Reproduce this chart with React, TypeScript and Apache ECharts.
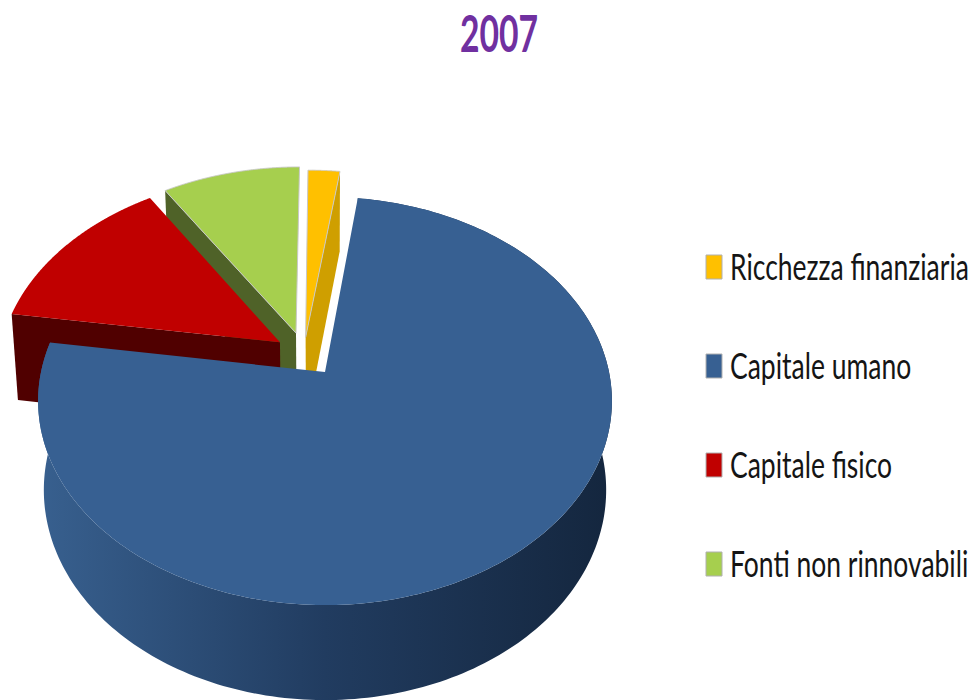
import React, { useEffect, useRef } from "react";
import * as echarts from "echarts";

const categories = ["Ricchezza finanziaria", "Capitale umano", "Capitale fisico", "Fonti non rinnovabili"];
const shares = [2.1, 75.3, 13.5, 9.1];
const topColors = ["#ffc000", "#376092", "#c00000", "#a6cf4e"];
const cutColors = ["#cf9f00", "#254061", "#500000", "#4f6228"];
const drawOrder = [3, 2, 0, 1];
// Displacement of each exploded slice, in units of the disc radius.
const explodeU = [-0.07, 0, -0.162, -0.105];
const explodeV = [0.178, 0, 0.152, 0.2];

const CX = 325, CY = 372, A = 200, B = 284, K = 0.142;
const FONT = "Lato, 'Open Sans', sans-serif";
const legendTops = [255, 354, 453, 552];
const LEGEND_SCALE = 0.716;

const project = (u: number, v: number, depth: boolean): number[] => {
  const w = 1 + K * v;
  const x = CX + (B * u) / w;
  const y = CY - (A * v) / w;
  if (!depth) return [x, y];
  return [CX + (x - CX) * 0.98, y + 88 - 7 * v];
};

const total = shares.reduce((a, b) => a + b, 0);
const startAngles = shares.map((_, i) => (shares.slice(0, i).reduce((a, b) => a + b, 0) * 360) / total);

const makeRenderItem = (index: number) => (_params: any, api: any) => {
  const angle = (api.value(0) * 360) / total;
  const start = startAngles[index];
  const du = explodeU[index], dv = explodeV[index];
  const rim = (deg: number, depth: boolean) => {
    const t = (deg * Math.PI) / 180;
    return project(du + Math.sin(t), dv + Math.cos(t), depth);
  };
  const top: number[][] = [], bottom: number[][] = [];
  for (let s = 0; s <= 240; s++) {
    const d = start + (angle * s) / 240;
    top.push(rim(d, false));
    bottom.push(rim(d, true));
  }
  const apexTop = project(du, dv, false);
  const apexBottom = project(du, dv, true);
  const last = top.length - 1;
  const children: any[] = [];
  if (index === 1) {
    children.push({
      type: "polygon",
      shape: { points: top.concat(bottom.slice().reverse()) },
      style: {
        fill: new echarts.graphic.LinearGradient(0, 0, 1, 0, [
          { offset: 0, color: "#38608f" },
          { offset: 0.5, color: "#213c60" },
          { offset: 1, color: "#14263e" },
        ]),
      },
    });
  }
  if (index === 0) {
    children.push({
      type: "polygon",
      shape: { points: [apexTop, top[last], bottom[last], apexBottom] },
      style: { fill: cutColors[index] },
    });
  }
  if (index === 2 || index === 3) {
    children.push({
      type: "polygon",
      shape: { points: [apexTop, top[0], bottom[0], apexBottom] },
      style: { fill: cutColors[index] },
    });
  }
  const edged = index === 0 || index === 3;
  children.push({
    type: "polygon",
    shape: { points: [apexTop].concat(top) },
    style: { fill: topColors[index], stroke: edged ? "#c8c8c8" : "none", lineWidth: edged ? 1 : 0 },
  });
  return { type: "group", children };
};

export default function App() {
  const ref = useRef<HTMLDivElement>(null);
  useEffect(() => {
    const chart = echarts.init(ref.current!, null, { renderer: "svg" });
    const legendElements: any[] = [];
    categories.forEach((name, i) => {
      legendElements.push({
        type: "rect",
        shape: { x: 706, y: legendTops[i], width: 16, height: 24 },
        style: { fill: topColors[i], stroke: "#b0b0b0", lineWidth: 1 },
        silent: true,
      });
      legendElements.push({
        type: "text",
        x: 730,
        y: legendTops[i] + 11,
        scaleX: LEGEND_SCALE,
        style: {
          text: name,
          fill: "#151515",
          font: `37px ${FONT}`,
          textAlign: "left",
          textVerticalAlign: "middle",
        },
        silent: true,
      });
    });
    chart.setOption({
      animation: false,
      backgroundColor: "#ffffff",
      graphic: [
        {
          type: "text",
          x: 499,
          y: 32,
          scaleX: 0.66,
          style: {
            text: "2007",
            fill: "#7030a0",
            font: `bold 51px ${FONT}`,
            textAlign: "center",
            textVerticalAlign: "middle",
          },
          silent: true,
        },
        ...legendElements,
      ],
      series: drawOrder.map((i) => ({
        type: "custom",
        name: categories[i],
        coordinateSystem: "none",
        silent: true,
        itemStyle: { color: topColors[i] },
        data: [[shares[i]]],
        renderItem: makeRenderItem(i),
      })),
    });
    return () => chart.dispose();
  }, []);
  return <div ref={ref} style={{ position: "absolute", left: 0, top: 0, width: 973, height: 700 }} />;
}
